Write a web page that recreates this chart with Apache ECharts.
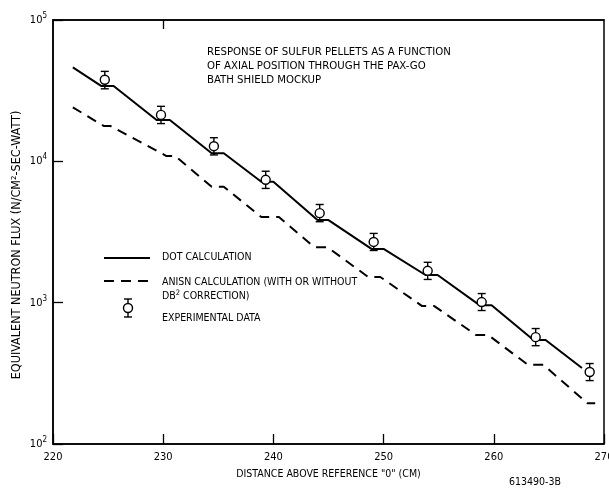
<!DOCTYPE html>
<html>
<head>
<meta charset="utf-8">
<script src="https://cdn.jsdelivr.net/npm/echarts@6/dist/echarts.min.js"></script>
<style>
  html, body { margin: 0; padding: 0; background: #fff; }
  #chart { width: 609px; height: 493px; }
</style>
</head>
<body>
<div id="chart"></div>
<script>
// Axial position (cm above reference "0") and sulfur pellet response
const xTicks = [220, 230, 240, 250, 260, 270];
const yDecades = [100, 1000, 10000, 100000];

// DOT calculation (solid)
const dotX = [221.8, 224.4, 225.5, 229.4, 230.6, 234.4, 235.5, 238.9, 240.0, 244.0, 245.0, 248.9, 250.0, 253.8, 254.9, 258.7, 259.8, 263.6, 264.7, 268.0];
const dotFlux = [46200, 34100, 34100, 19600, 19600, 11400, 11400, 7170, 7170, 3840, 3840, 2400, 2400, 1570, 1570, 960, 960, 545, 545, 345];

// ANISN calculation (dashed)
const anisnX = [221.8, 224.6, 225.2, 230.3, 231.1, 234.4, 235.5, 238.9, 240.5, 243.7, 244.9, 248.6, 249.7, 253.5, 254.6, 258.4, 259.5, 263.1, 264.5, 268.5, 269.2];
const anisnFlux = [24100, 17800, 17800, 10900, 10900, 6610, 6610, 4035, 4035, 2470, 2470, 1520, 1520, 946, 946, 590, 590, 363, 363, 194, 194];

// Experimental data with error bars
const expX = [224.7, 229.8, 234.6, 239.3, 244.2, 249.1, 254.0, 258.9, 263.8, 268.7];
const expFlux = [37800, 21300, 12800, 7400, 4300, 2690, 1680, 1010, 570, 323];
const expLow = [32600, 18500, 11100, 6430, 3740, 2340, 1460, 880, 496, 281];
const expHigh = [43300, 24500, 14700, 8510, 4950, 3090, 1930, 1160, 656, 371];

const FONT = '"Liberation Sans Narrow", "DejaVu Sans Condensed", sans-serif';
const INK = '#000';

const chart = echarts.init(document.getElementById('chart'), null, { renderer: 'canvas' });

const pairs = (xs, ys) => xs.map((x, i) => [x, ys[i]]);

const sup = { fontSize: 8, verticalAlign: 'bottom', padding: [0, 0, 8, 0], fontFamily: FONT, color: INK };

const option = {
  backgroundColor: '#fff',
  animation: false,
  grid: {
    left: 53, right: 5, top: 20, bottom: 49,
    containLabel: false, outerBoundsMode: 'none',
    show: true, borderColor: INK, borderWidth: 1.5, backgroundColor: 'transparent'
  },
  xAxis: [{
    type: 'value', min: xTicks[0], max: xTicks[xTicks.length - 1], interval: 10,
    position: 'bottom',
    name: 'DISTANCE ABOVE REFERENCE "0" (CM)',
    nameLocation: 'middle', nameGap: 25,
    nameTextStyle: { fontFamily: FONT, fontSize: 10.5, color: INK },
    axisLine: { show: true, lineStyle: { color: INK, width: 1.5 } },
    axisTick: { show: true, inside: true, length: 10, lineStyle: { color: INK, width: 1.3 } },
    splitLine: { show: false },
    axisLabel: { fontFamily: FONT, fontSize: 11, color: INK, margin: 8 }
  }, {
    type: 'value', min: xTicks[0], max: xTicks[xTicks.length - 1], interval: 10,
    position: 'top',
    axisLine: { show: true, lineStyle: { color: INK, width: 1.5 } },
    axisTick: { show: true, inside: true, length: 9, customValues: [230], lineStyle: { color: INK, width: 1.3 } },
    axisLabel: { show: false },
    splitLine: { show: false }
  }],
  yAxis: {
    type: 'log', logBase: 10, min: yDecades[0], max: yDecades[yDecades.length - 1],
    axisLine: { show: true, lineStyle: { color: INK, width: 1.5 } },
    axisTick: { show: true, inside: true, length: 10, lineStyle: { color: INK, width: 1.3 } },
    splitLine: { show: false },
    minorTick: { show: false },
    axisLabel: {
      margin: 6,
      formatter: v => '{b|10}{e|' + Math.round(Math.log10(v)) + '}',
      rich: {
        b: { fontFamily: FONT, fontSize: 11, color: INK },
        e: sup
      }
    }
  },
  series: [{
    name: 'DOT CALCULATION',
    type: 'line',
    data: pairs(dotX, dotFlux),
    symbol: 'none',
    lineStyle: { color: INK, width: 2 },
    z: 3
  }, {
    name: 'ANISN CALCULATION',
    type: 'line',
    data: pairs(anisnX, anisnFlux),
    symbol: 'none',
    lineStyle: { color: INK, width: 2, type: [10, 7] },
    z: 3
  }, {
    name: 'EXPERIMENTAL DATA',
    type: 'custom',
    data: expX.map((x, i) => [x, expFlux[i], expLow[i], expHigh[i]]),
    encode: { x: 0, y: [1, 2, 3] },
    renderItem: (params, api) => {
      const c = api.coord([api.value(0), api.value(1)]);
      const lo = api.coord([api.value(0), api.value(2)]);
      const hi = api.coord([api.value(0), api.value(3)]);
      const r = 4.5, cap = 4;
      const st = { stroke: INK, lineWidth: 1.4, fill: null };
      return {
        type: 'group',
        children: [
          { type: 'line', shape: { x1: c[0], y1: hi[1], x2: c[0], y2: c[1] - r }, style: st },
          { type: 'line', shape: { x1: c[0], y1: c[1] + r, x2: c[0], y2: lo[1] }, style: st },
          { type: 'line', shape: { x1: c[0] - cap, y1: hi[1], x2: c[0] + cap, y2: hi[1] }, style: st },
          { type: 'line', shape: { x1: c[0] - cap, y1: lo[1], x2: c[0] + cap, y2: lo[1] }, style: st },
          { type: 'circle', shape: { cx: c[0], cy: c[1], r: r }, style: { stroke: INK, lineWidth: 1.4, fill: '#fff' } }
        ]
      };
    },
    z: 5
  }],
  graphic: [
    // y-axis title
    { type: 'text', x: 17, y: 245, rotation: Math.PI / 2, style: {
        text: 'EQUIVALENT NEUTRON FLUX (N/CM\u00B2-SEC-WATT)',
        fontFamily: FONT, fontSize: 12.5, fill: INK, align: 'center', verticalAlign: 'middle' } },
    // chart caption
    { type: 'text', left: 207, top: 45, style: {
        text: 'RESPONSE OF SULFUR PELLETS AS A FUNCTION\nOF AXIAL POSITION THROUGH THE PAX-GO\nBATH SHIELD MOCKUP',
        fontFamily: FONT, fontSize: 11.3, lineHeight: 14, fill: INK } },
    // key
    { type: 'line', shape: { x1: 104, y1: 258, x2: 150, y2: 258 }, style: { stroke: INK, lineWidth: 2 } },
    { type: 'text', left: 162, top: 252, style: { text: 'DOT CALCULATION', fontFamily: FONT, fontSize: 10.5, fill: INK } },
    { type: 'line', shape: { x1: 104, y1: 281, x2: 150, y2: 281 }, style: { stroke: INK, lineWidth: 2, lineDash: [10, 7] } },
    { type: 'text', left: 162, top: 275, style: {
        text: 'ANISN CALCULATION (WITH OR WITHOUT\n{t|DB}{s|2}{t| CORRECTION)}',
        fontFamily: FONT, fontSize: 10.5, lineHeight: 14, fill: INK,
        rich: { t: { fontFamily: FONT, fontSize: 10.5, fill: INK }, s: { fontFamily: FONT, fontSize: 7.5, fill: INK, verticalAlign: 'bottom', padding: [0, 0, 6, 0] } } } },
    { type: 'group', x: 128, y: 308, children: [
        { type: 'line', shape: { x1: 0, y1: -9, x2: 0, y2: -4.5 }, style: { stroke: INK, lineWidth: 1.4 } },
        { type: 'line', shape: { x1: 0, y1: 4.5, x2: 0, y2: 9 }, style: { stroke: INK, lineWidth: 1.4 } },
        { type: 'line', shape: { x1: -4, y1: -9, x2: 4, y2: -9 }, style: { stroke: INK, lineWidth: 1.4 } },
        { type: 'line', shape: { x1: -4, y1: 9, x2: 4, y2: 9 }, style: { stroke: INK, lineWidth: 1.4 } },
        { type: 'circle', shape: { cx: 0, cy: 0, r: 4.5 }, style: { stroke: INK, lineWidth: 1.4, fill: '#fff' } }
    ] },
    { type: 'text', left: 162, top: 313, style: { text: 'EXPERIMENTAL DATA', fontFamily: FONT, fontSize: 10.5, fill: INK } },
    // drawing number
    { type: 'text', left: 509, top: 477, style: { text: '613490-3B', fontFamily: FONT, fontSize: 10.5, fill: INK } }
  ]
};

chart.setOption(option);
</script>
</body>
</html>
